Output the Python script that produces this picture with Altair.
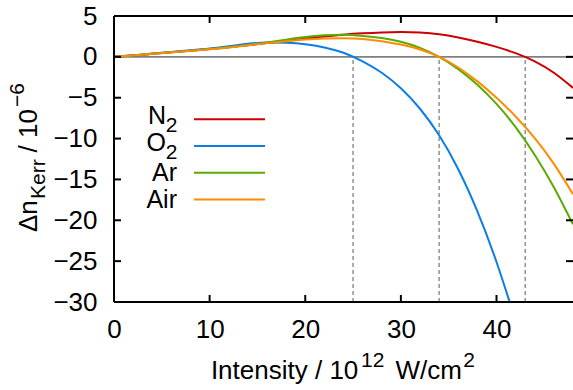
import altair as alt
import pandas as pd

# ---------------- data ----------------
intensity = [0, 2, 4, 6, 8, 10, 12, 14, 16, 18, 20, 22, 24, 26, 28, 30, 32, 34, 36, 38, 40, 42, 44, 46, 48]
dn_N2 = [0, 0.18, 0.37, 0.56, 0.75, 0.95, 1.18, 1.43, 1.68, 1.95, 2.25, 2.5, 2.72, 2.88, 2.99, 3.04, 2.98, 2.78, 2.38, 1.85, 1.22, 0.45, -0.55, -1.95, -3.8]
dn_O2 = [0, 0.2, 0.4, 0.6, 0.8, 1.02, 1.3, 1.6, 1.75, 1.72, 1.55, 1.15, 0.5, -0.55, -1.95, -3.85, -6.35, -9.6, -13.75, -18.9, -25.1, -32.3, None, None, None]
dn_Ar = [0, 0.18, 0.37, 0.56, 0.75, 0.95, 1.18, 1.45, 1.75, 2.1, 2.42, 2.63, 2.7, 2.56, 2.3, 1.85, 1.1, 0, -1.5, -3.4, -5.75, -8.6, -12.0, -15.95, -20.5]
dn_Air = [0, 0.18, 0.37, 0.56, 0.75, 0.93, 1.15, 1.42, 1.68, 1.92, 2.12, 2.25, 2.28, 2.2, 1.92, 1.5, 0.9, 0, -1.3, -3.0, -5.0, -7.3, -9.95, -13.1, -16.8]

series_names = ["N2", "O2", "Ar", "Air"]
series_main = ["N", "O", "Ar", "Air"]
series_sub = ["2", "2", "", ""]
series_colors = ["#cc0000", "#0a7ee6", "#58ab00", "#ff8c00"]
series_values = [dn_N2, dn_O2, dn_Ar, dn_Air]

crossings = [25, 34, 43]
x_ticks = [0, 10, 20, 30, 40]
y_ticks = [-30, -25, -20, -15, -10, -5, 0, 5]

# ---------------- layout ----------------
W, H = 459, 286
FONT = "Liberation Sans"
FS = 26
FS_LEG = 25
FS_SMALL = 21
TICK = 7

xs = alt.Scale(domain=[0, 48], nice=False, zero=False)
ys = alt.Scale(domain=[-30, 5], nice=False, zero=False)

x_axis = alt.Axis(values=x_ticks, format="d", ticks=False, domain=False, grid=False,
                  title=None, labelFont=FONT, labelFontSize=FS, labelColor="black",
                  labelPadding=14, labelFlush=False, labelOverlap=False)
y_axis = alt.Axis(values=y_ticks, format="d", ticks=False, domain=False, grid=False,
                  title=None, labelFont=FONT, labelFontSize=FS, labelColor="black",
                  labelPadding=17, labelFlush=False, labelOverlap=False)

dummy = pd.DataFrame({"d": [0]})

layers = []

# zero line
layers.append(
    alt.Chart(dummy).mark_rule(color="#808080", strokeWidth=1.6).encode(
        y=alt.datum(0, scale=ys, axis=y_axis)
    )
)

# dashed vertical lines at the zero crossings
cross_df = pd.DataFrame({"x": crossings, "y0": [-30] * len(crossings), "y1": [0] * len(crossings)})
layers.append(
    alt.Chart(cross_df).mark_rule(color="#808080", strokeWidth=1.3, strokeDash=[4, 3]).encode(
        x=alt.X("x:Q", scale=xs, axis=x_axis),
        y=alt.Y("y0:Q", scale=ys, axis=y_axis),
        y2="y1:Q",
    )
)

# curves
for name, vals, col in zip(series_names, series_values, series_colors):
    df = pd.DataFrame({"I": intensity, "dn": vals}).dropna()
    layers.append(
        alt.Chart(df).mark_line(color=col, strokeWidth=2, clip=True, interpolate="natural").encode(
            x=alt.X("I:Q", scale=xs, axis=x_axis),
            y=alt.Y("dn:Q", scale=ys, axis=y_axis),
        )
    )

# frame (top, left, bottom)
layers.append(alt.Chart(dummy).mark_rule(color="black", strokeWidth=2).encode(
    x=alt.value(0), x2=alt.value(W), y=alt.value(0)))
layers.append(alt.Chart(dummy).mark_rule(color="black", strokeWidth=2).encode(
    x=alt.value(0), x2=alt.value(W), y=alt.value(H)))
layers.append(alt.Chart(dummy).mark_rule(color="black", strokeWidth=2).encode(
    x=alt.value(0), y=alt.value(0), y2=alt.value(H)))

# inward tick marks
xt_df = pd.DataFrame({"x": [v for v in x_ticks if v > 0]})
yt_df = pd.DataFrame({"y": [v for v in y_ticks if -30 < v < 5]})
layers.append(alt.Chart(xt_df).mark_rule(color="black", strokeWidth=2).encode(
    x=alt.X("x:Q", scale=xs, axis=x_axis), y=alt.value(H), y2=alt.value(H - TICK)))
layers.append(alt.Chart(xt_df).mark_rule(color="black", strokeWidth=2).encode(
    x=alt.X("x:Q", scale=xs, axis=x_axis), y=alt.value(0), y2=alt.value(TICK)))
layers.append(alt.Chart(yt_df).mark_rule(color="black", strokeWidth=2).encode(
    y=alt.Y("y:Q", scale=ys, axis=y_axis), x=alt.value(0), x2=alt.value(TICK)))
layers.append(alt.Chart(yt_df).mark_rule(color="black", strokeWidth=2).encode(
    y=alt.Y("y:Q", scale=ys, axis=y_axis), x=alt.value(W), x2=alt.value(W - TICK)))


def txt(text, x, y, size=FS, angle=0, align="left", baseline="alphabetic"):
    return alt.Chart(dummy).mark_text(
        text=text, font=FONT, fontSize=size, angle=angle, align=align,
        baseline=baseline, color="black"
    ).encode(x=alt.value(x), y=alt.value(y))


# legend (gnuplot style: label on the left, line sample on the right)
row0, row_step = 103.3, 26.7
label_right = 63
for i, (main, sub, col) in enumerate(zip(series_main, series_sub, series_colors)):
    yc = row0 + i * row_step
    layers.append(alt.Chart(dummy).mark_rule(strokeWidth=2, color=col).encode(
        x=alt.value(80), x2=alt.value(151), y=alt.value(yc)))
    if sub:
        layers.append(txt(main, label_right - 11, yc + 5, size=FS_LEG, align="right"))
        layers.append(txt(sub, label_right + 0.5, yc + 13, size=FS_SMALL, align="right"))
    else:
        layers.append(txt(main, label_right, yc + 8.4, size=FS_LEG, align="right"))

# x axis title: Intensity / 10^12 W/cm^2
layers.append(txt("Intensity / 10", 244.3, 363, align="right"))
layers.append(txt("12", 247, 350.5, size=FS_SMALL))
layers.append(txt("W/cm", 281.5, 363))
layers.append(txt("2", 349.3, 350.5, size=FS_SMALL))

# y axis title: Δn_Kerr / 10^-6 (rotated)
layers.append(txt("Δn", -77, 216, angle=270))
layers.append(txt("Kerr", -69, 183, size=FS_SMALL, angle=270))
layers.append(txt(" / 10", -77, 93, angle=270, align="right"))
layers.append(txt("\u22126", -90, 91, size=FS_SMALL, angle=270))

chart = alt.layer(*layers).properties(
    width=W,
    height=H,
    autosize=alt.AutoSizeParams(type="none"),
    padding={"left": 114, "top": 16, "right": 0, "bottom": 88},
    background="white",
).configure_view(stroke=None)

chart.save("out.html", embed_options={"renderer": "svg", "actions": False})
